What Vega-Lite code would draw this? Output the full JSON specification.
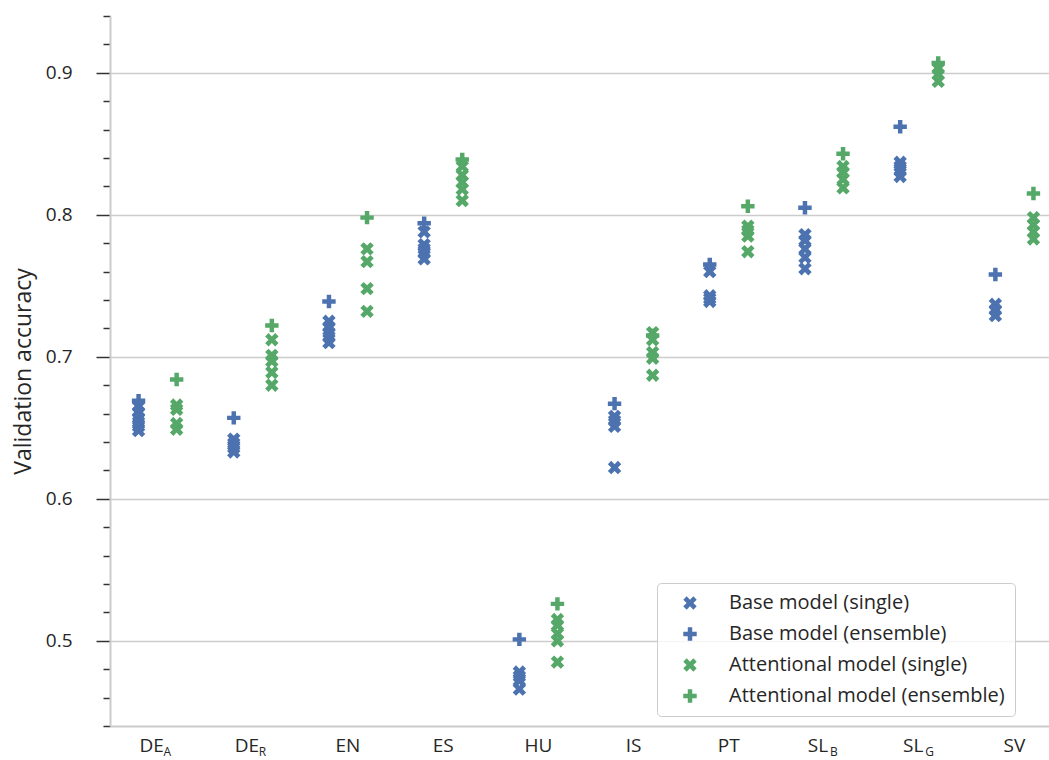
{
  "$schema": "https://vega.github.io/schema/vega-lite/v6.json",
  "width": 940,
  "height": 710,
  "autosize": {"type": "none"},
  "padding": {"left": 110, "top": 16, "right": 0, "bottom": 34},
  "background": "white",
  "config": {
    "font": "Open Sans",
    "view": {"stroke": null},
    "legend": {
      "padding": 10,
      "fillColor": "rgba(255,255,255,0.8)",
      "strokeColor": "#cccccc",
      "cornerRadius": 4,
      "symbolOffset": 13,
      "labelOffset": 29,
      "labelFontSize": 20,
      "labelColor": "#262626",
      "labelLimit": 600,
      "rowPadding": 11,
      "symbolSize": 180,
      "symbolStrokeWidth": 0,
      "symbolOpacity": 1
    }
  },
  "layer": [
    {
      "data": {
        "values": [
          {"lang": "DE_A", "model": "Base", "series": "Base model (single)", "acc": 0.665},
          {"lang": "DE_A", "model": "Base", "series": "Base model (single)", "acc": 0.661},
          {"lang": "DE_A", "model": "Base", "series": "Base model (single)", "acc": 0.657},
          {"lang": "DE_A", "model": "Base", "series": "Base model (single)", "acc": 0.654},
          {"lang": "DE_A", "model": "Base", "series": "Base model (single)", "acc": 0.651},
          {"lang": "DE_A", "model": "Base", "series": "Base model (single)", "acc": 0.648},
          {"lang": "DE_R", "model": "Base", "series": "Base model (single)", "acc": 0.642},
          {"lang": "DE_R", "model": "Base", "series": "Base model (single)", "acc": 0.639},
          {"lang": "DE_R", "model": "Base", "series": "Base model (single)", "acc": 0.636},
          {"lang": "DE_R", "model": "Base", "series": "Base model (single)", "acc": 0.633},
          {"lang": "EN", "model": "Base", "series": "Base model (single)", "acc": 0.725},
          {"lang": "EN", "model": "Base", "series": "Base model (single)", "acc": 0.721},
          {"lang": "EN", "model": "Base", "series": "Base model (single)", "acc": 0.717},
          {"lang": "EN", "model": "Base", "series": "Base model (single)", "acc": 0.714},
          {"lang": "EN", "model": "Base", "series": "Base model (single)", "acc": 0.710},
          {"lang": "ES", "model": "Base", "series": "Base model (single)", "acc": 0.788},
          {"lang": "ES", "model": "Base", "series": "Base model (single)", "acc": 0.779},
          {"lang": "ES", "model": "Base", "series": "Base model (single)", "acc": 0.776},
          {"lang": "ES", "model": "Base", "series": "Base model (single)", "acc": 0.773},
          {"lang": "ES", "model": "Base", "series": "Base model (single)", "acc": 0.769},
          {"lang": "HU", "model": "Base", "series": "Base model (single)", "acc": 0.478},
          {"lang": "HU", "model": "Base", "series": "Base model (single)", "acc": 0.475},
          {"lang": "HU", "model": "Base", "series": "Base model (single)", "acc": 0.472},
          {"lang": "HU", "model": "Base", "series": "Base model (single)", "acc": 0.466},
          {"lang": "IS", "model": "Base", "series": "Base model (single)", "acc": 0.658},
          {"lang": "IS", "model": "Base", "series": "Base model (single)", "acc": 0.655},
          {"lang": "IS", "model": "Base", "series": "Base model (single)", "acc": 0.651},
          {"lang": "IS", "model": "Base", "series": "Base model (single)", "acc": 0.622},
          {"lang": "PT", "model": "Base", "series": "Base model (single)", "acc": 0.760},
          {"lang": "PT", "model": "Base", "series": "Base model (single)", "acc": 0.743},
          {"lang": "PT", "model": "Base", "series": "Base model (single)", "acc": 0.741},
          {"lang": "PT", "model": "Base", "series": "Base model (single)", "acc": 0.739},
          {"lang": "SL_B", "model": "Base", "series": "Base model (single)", "acc": 0.786},
          {"lang": "SL_B", "model": "Base", "series": "Base model (single)", "acc": 0.782},
          {"lang": "SL_B", "model": "Base", "series": "Base model (single)", "acc": 0.776},
          {"lang": "SL_B", "model": "Base", "series": "Base model (single)", "acc": 0.770},
          {"lang": "SL_B", "model": "Base", "series": "Base model (single)", "acc": 0.762},
          {"lang": "SL_G", "model": "Base", "series": "Base model (single)", "acc": 0.837},
          {"lang": "SL_G", "model": "Base", "series": "Base model (single)", "acc": 0.834},
          {"lang": "SL_G", "model": "Base", "series": "Base model (single)", "acc": 0.831},
          {"lang": "SL_G", "model": "Base", "series": "Base model (single)", "acc": 0.827},
          {"lang": "SV", "model": "Base", "series": "Base model (single)", "acc": 0.737},
          {"lang": "SV", "model": "Base", "series": "Base model (single)", "acc": 0.733},
          {"lang": "SV", "model": "Base", "series": "Base model (single)", "acc": 0.729},

          {"lang": "DE_A", "model": "Base", "series": "Base model (ensemble)", "acc": 0.669},
          {"lang": "DE_R", "model": "Base", "series": "Base model (ensemble)", "acc": 0.657},
          {"lang": "EN", "model": "Base", "series": "Base model (ensemble)", "acc": 0.739},
          {"lang": "ES", "model": "Base", "series": "Base model (ensemble)", "acc": 0.794},
          {"lang": "HU", "model": "Base", "series": "Base model (ensemble)", "acc": 0.501},
          {"lang": "IS", "model": "Base", "series": "Base model (ensemble)", "acc": 0.667},
          {"lang": "PT", "model": "Base", "series": "Base model (ensemble)", "acc": 0.765},
          {"lang": "SL_B", "model": "Base", "series": "Base model (ensemble)", "acc": 0.805},
          {"lang": "SL_G", "model": "Base", "series": "Base model (ensemble)", "acc": 0.862},
          {"lang": "SV", "model": "Base", "series": "Base model (ensemble)", "acc": 0.758},

          {"lang": "DE_A", "model": "Attentional", "series": "Attentional model (single)", "acc": 0.666},
          {"lang": "DE_A", "model": "Attentional", "series": "Attentional model (single)", "acc": 0.663},
          {"lang": "DE_A", "model": "Attentional", "series": "Attentional model (single)", "acc": 0.653},
          {"lang": "DE_A", "model": "Attentional", "series": "Attentional model (single)", "acc": 0.649},
          {"lang": "DE_R", "model": "Attentional", "series": "Attentional model (single)", "acc": 0.712},
          {"lang": "DE_R", "model": "Attentional", "series": "Attentional model (single)", "acc": 0.701},
          {"lang": "DE_R", "model": "Attentional", "series": "Attentional model (single)", "acc": 0.697},
          {"lang": "DE_R", "model": "Attentional", "series": "Attentional model (single)", "acc": 0.689},
          {"lang": "DE_R", "model": "Attentional", "series": "Attentional model (single)", "acc": 0.680},
          {"lang": "EN", "model": "Attentional", "series": "Attentional model (single)", "acc": 0.776},
          {"lang": "EN", "model": "Attentional", "series": "Attentional model (single)", "acc": 0.767},
          {"lang": "EN", "model": "Attentional", "series": "Attentional model (single)", "acc": 0.748},
          {"lang": "EN", "model": "Attentional", "series": "Attentional model (single)", "acc": 0.732},
          {"lang": "ES", "model": "Attentional", "series": "Attentional model (single)", "acc": 0.834},
          {"lang": "ES", "model": "Attentional", "series": "Attentional model (single)", "acc": 0.828},
          {"lang": "ES", "model": "Attentional", "series": "Attentional model (single)", "acc": 0.823},
          {"lang": "ES", "model": "Attentional", "series": "Attentional model (single)", "acc": 0.818},
          {"lang": "ES", "model": "Attentional", "series": "Attentional model (single)", "acc": 0.810},
          {"lang": "HU", "model": "Attentional", "series": "Attentional model (single)", "acc": 0.515},
          {"lang": "HU", "model": "Attentional", "series": "Attentional model (single)", "acc": 0.511},
          {"lang": "HU", "model": "Attentional", "series": "Attentional model (single)", "acc": 0.505},
          {"lang": "HU", "model": "Attentional", "series": "Attentional model (single)", "acc": 0.500},
          {"lang": "HU", "model": "Attentional", "series": "Attentional model (single)", "acc": 0.485},
          {"lang": "IS", "model": "Attentional", "series": "Attentional model (single)", "acc": 0.717},
          {"lang": "IS", "model": "Attentional", "series": "Attentional model (single)", "acc": 0.712},
          {"lang": "IS", "model": "Attentional", "series": "Attentional model (single)", "acc": 0.703},
          {"lang": "IS", "model": "Attentional", "series": "Attentional model (single)", "acc": 0.699},
          {"lang": "IS", "model": "Attentional", "series": "Attentional model (single)", "acc": 0.687},
          {"lang": "PT", "model": "Attentional", "series": "Attentional model (single)", "acc": 0.792},
          {"lang": "PT", "model": "Attentional", "series": "Attentional model (single)", "acc": 0.789},
          {"lang": "PT", "model": "Attentional", "series": "Attentional model (single)", "acc": 0.785},
          {"lang": "PT", "model": "Attentional", "series": "Attentional model (single)", "acc": 0.774},
          {"lang": "SL_B", "model": "Attentional", "series": "Attentional model (single)", "acc": 0.834},
          {"lang": "SL_B", "model": "Attentional", "series": "Attentional model (single)", "acc": 0.830},
          {"lang": "SL_B", "model": "Attentional", "series": "Attentional model (single)", "acc": 0.825},
          {"lang": "SL_B", "model": "Attentional", "series": "Attentional model (single)", "acc": 0.819},
          {"lang": "SL_G", "model": "Attentional", "series": "Attentional model (single)", "acc": 0.903},
          {"lang": "SL_G", "model": "Attentional", "series": "Attentional model (single)", "acc": 0.899},
          {"lang": "SL_G", "model": "Attentional", "series": "Attentional model (single)", "acc": 0.894},
          {"lang": "SV", "model": "Attentional", "series": "Attentional model (single)", "acc": 0.798},
          {"lang": "SV", "model": "Attentional", "series": "Attentional model (single)", "acc": 0.793},
          {"lang": "SV", "model": "Attentional", "series": "Attentional model (single)", "acc": 0.788},
          {"lang": "SV", "model": "Attentional", "series": "Attentional model (single)", "acc": 0.783},

          {"lang": "DE_A", "model": "Attentional", "series": "Attentional model (ensemble)", "acc": 0.684},
          {"lang": "DE_R", "model": "Attentional", "series": "Attentional model (ensemble)", "acc": 0.722},
          {"lang": "EN", "model": "Attentional", "series": "Attentional model (ensemble)", "acc": 0.798},
          {"lang": "ES", "model": "Attentional", "series": "Attentional model (ensemble)", "acc": 0.839},
          {"lang": "HU", "model": "Attentional", "series": "Attentional model (ensemble)", "acc": 0.526},
          {"lang": "IS", "model": "Attentional", "series": "Attentional model (ensemble)", "acc": 0.715},
          {"lang": "PT", "model": "Attentional", "series": "Attentional model (ensemble)", "acc": 0.806},
          {"lang": "SL_B", "model": "Attentional", "series": "Attentional model (ensemble)", "acc": 0.843},
          {"lang": "SL_G", "model": "Attentional", "series": "Attentional model (ensemble)", "acc": 0.907},
          {"lang": "SV", "model": "Attentional", "series": "Attentional model (ensemble)", "acc": 0.815}
        ]
      },
      "mark": {"type": "point", "filled": true, "opacity": 1, "size": 180, "strokeWidth": 0},
      "encoding": {
        "x": {
          "field": "lang",
          "type": "nominal",
          "sort": ["DE_A", "DE_R", "EN", "ES", "HU", "IS", "PT", "SL_B", "SL_G", "SV"],
          "scale": {"type": "band", "range": [0, 952], "paddingInner": 0, "paddingOuter": 0},
          "axis": {
            "title": null,
            "labelExpr": "split(datum.label, '_')[0]",
            "labelOffset": {"condition": {"test": "indexof(datum.value, '_') >= 0", "value": -6}, "value": 0},
            "labelAngle": 0,
            "ticks": false,
            "labelPadding": 10,
            "labelFontSize": 19,
            "labelColor": "#262626",
            "domainColor": "#cccccc",
            "domainWidth": 2,
            "grid": false
          }
        },
        "xOffset": {
          "field": "model",
          "type": "nominal",
          "sort": ["Base", "Attentional"],
          "scale": {"type": "point", "padding": 0.75}
        },
        "y": {
          "field": "acc",
          "type": "quantitative",
          "scale": {"domain": [0.44, 0.94], "nice": false, "zero": false},
          "axis": {
            "title": "Validation accuracy",
            "titleFontSize": 23,
            "titleFontWeight": "normal",
            "titleColor": "#262626",
            "titlePadding": 10,
            "values": [0.44, 0.46, 0.48, 0.5, 0.52, 0.54, 0.56, 0.58, 0.6, 0.62, 0.64, 0.66, 0.68, 0.7, 0.72, 0.74, 0.76, 0.78, 0.8, 0.82, 0.84, 0.86, 0.88, 0.9, 0.92, 0.94],
            "tickCount": 40,
            "labelOverlap": false,
            "labelExpr": "abs(datum.value * 10 - round(datum.value * 10)) < 0.001 ? format(datum.value, '.1f') : ''",
            "labelFontSize": 19,
            "labelColor": "#262626",
            "labelPadding": 24,
            "tickColor": "#333333",
            "tickWidth": 1.5,
            "tickSize": {"condition": {"test": "abs(datum.value * 10 - round(datum.value * 10)) < 0.001", "value": 14}, "value": 7},
            "domainColor": "#cccccc",
            "domainWidth": 2,
            "grid": true,
            "gridColor": "#cccccc",
            "gridWidth": 1.5,
            "gridOpacity": {"condition": {"test": "abs(datum.value * 10 - round(datum.value * 10)) < 0.001", "value": 1}, "value": 0}
          }
        },
        "color": {
          "field": "series",
          "type": "nominal",
          "scale": {
            "domain": ["Base model (single)", "Base model (ensemble)", "Attentional model (single)", "Attentional model (ensemble)"],
            "range": ["#4C72B0", "#4C72B0", "#55A868", "#55A868"]
          },
          "legend": {"title": null, "orient": "none", "legendX": 547, "legendY": 567}
        },
        "shape": {
          "field": "series",
          "type": "nominal",
          "scale": {
            "domain": ["Base model (single)", "Base model (ensemble)", "Attentional model (single)", "Attentional model (ensemble)"],
            "range": [
              "M-0.5,-1L0,-0.5L0.5,-1L1,-0.5L0.5,0L1,0.5L0.5,1L0,0.5L-0.5,1L-1,0.5L-0.5,0L-1,-0.5Z",
              "M-0.333,-1H0.333V-0.333H1V0.333H0.333V1H-0.333V0.333H-1V-0.333H-0.333Z",
              "M-0.5,-1L0,-0.5L0.5,-1L1,-0.5L0.5,0L1,0.5L0.5,1L0,0.5L-0.5,1L-1,0.5L-0.5,0L-1,-0.5Z",
              "M-0.333,-1H0.333V-0.333H1V0.333H0.333V1H-0.333V0.333H-1V-0.333H-0.333Z"
            ]
          },
          "legend": {"title": null, "orient": "none", "legendX": 547, "legendY": 567}
        }
      }
    },
    {
      "data": {
        "values": [
          {"lang": "DE_A", "sub": "A"},
          {"lang": "DE_R", "sub": "R"},
          {"lang": "SL_B", "sub": "B"},
          {"lang": "SL_G", "sub": "G"}
        ]
      },
      "mark": {"type": "text", "align": "left", "baseline": "alphabetic", "dx": 6, "dy": 30, "fontSize": 12, "color": "#262626"},
      "encoding": {
        "x": {"field": "lang", "type": "nominal"},
        "y": {"datum": 0.44, "type": "quantitative"},
        "text": {"field": "sub"}
      }
    }
  ]
}
